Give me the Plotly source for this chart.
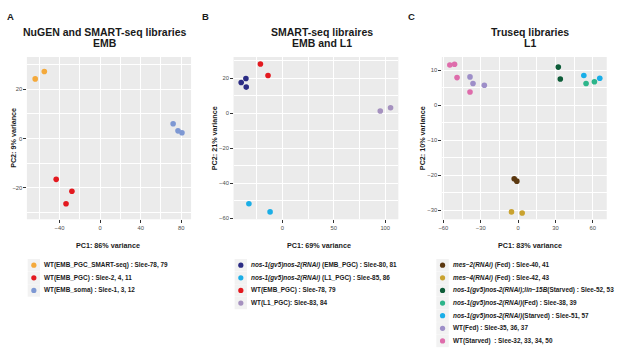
import plotly.graph_objects as go

W, H = 617, 354
FONT = "Liberation Sans, Arial, sans-serif"

# ---------------- Panel A data ----------------
a_labels = ["WT(EMB_PGC_SMART-seq) : Slee-78, 79",
            "WT(EMB_PGC) : Slee-2, 4, 11",
            "WT(EMB_soma) : Slee-1, 3, 12"]
a_colors = ["#F4A93B", "#E3191F", "#7E98D3"]
a_pc1 = [[-64.0, -55.0], [-43.3, -27.8, -33.6], [72.0, 76.8, 80.7]]
a_pc2 = [[24.2, 27.2], [-16.6, -21.4, -26.5], [6.0, 3.1, 2.3]]

# ---------------- Panel B data ----------------
b_labels = ["<i>nos-1(gv5)nos-2(RNAi)</i> (EMB_PGC) : Slee-80, 81",
            "<i>nos-1(gv5)nos-2(RNAi)</i> (L1_PGC) : Slee-85, 86",
            "WT(EMB_PGC) : Slee-78, 79",
            "WT(L1_PGC): Slee-83, 84"]
b_colors = ["#2B2C84", "#1BAEE6", "#E3191F", "#A591BF"]
b_pc1 = [[-40.0, -35.4, -35.1], [-32.5, -11.9], [-21.3, -13.9], [95.2, 105.2]]
b_pc2 = [[17.6, 19.9, 15.0], [-51.6, -56.3], [28.2, 21.6], [1.3, 3.2]]

# ---------------- Panel C data ----------------
c_labels = ["<i>mes\u22122(RNAi)</i> (Fed) : Slee-40, 41",
            "<i>mes\u22124(RNAi)</i> (Fed) : Slee-42, 43",
            "<i>nos-1(gv5)nos-2(RNAi);lin\u221215B</i>(Starved) : Slee-52, 53",
            "<i>nos-1(gv5)nos-2(RNAi)</i>(Fed) : Slee-38, 39",
            "<i>nos-1(gv5)nos-2(RNAi)</i>(Starved) : Slee-51, 57",
            "WT(Fed) : Slee-35, 36, 37",
            "WT(Starved) \u00a0: Slee-32, 33, 34, 50"]
c_colors = ["#5B3810", "#C9A22F", "#0D5C38", "#2DB58A", "#19AEE8", "#9D8EC8", "#DE6CAB"]
c_pc1 = [[-3.1, -1.0], [-5.3, 3.3], [32.3, 33.9], [54.6, 61.3], [52.8, 65.6],
         [-38.6, -36.2, -27.1], [-54.8, -51.0, -49.0, -38.6]]
c_pc2 = [[-21.0, -21.7], [-30.5, -30.8], [10.9, 7.5], [6.2, 6.7], [8.5, 7.7],
         [8.1, 6.2, 5.7], [11.5, 11.7, 7.9, 3.8]]

titles = [("NuGEN and SMART-seq libraries", "EMB"),
          ("SMART-seq libraires", "EMB and L1"),
          ("Truseq libraries", "L1")]
letters = ["A", "B", "C"]
xtitles = ["PC1: 86% variance", "PC1: 69% variance", "PC1: 83% variance"]
ytitles = ["PC2: 9% variance", "PC2: 21% variance", "PC2: 10% variance"]

panels = [
    dict(labels=a_labels, colors=a_colors, x=a_pc1, y=a_pc2,
         xdom=(24, 189), xr=[-72.2, 89.7], yr=[-32.8, 33.1], xd=40, yd=20,
         letter=(7.5, 16.7), t1=103, t2=102, xt=105.5, yt=10.7, leg=31),
    dict(labels=b_labels, colors=b_colors, x=b_pc1, y=b_pc2,
         xdom=(231.7, 397.3), xr=[-47.4, 112.8], yr=[-60.5, 32.2], xd=50, yd=20,
         letter=(203.5, 16.3), t1=320.5, t2=320.3, xt=318, yt=212, leg=239),
    dict(labels=c_labels, colors=c_colors, x=c_pc1, y=c_pc2,
         xdom=(441, 606.7), xr=[-61.2, 71.2], yr=[-32.6, 13.8], xd=30, yd=10,
         letter=(410, 16.7), t1=530, t2=530, xt=530, yt=421, leg=441.7),
]

PLOT_TOP, PLOT_BOT = 57.3, 220.5
ydom = [1 - PLOT_BOT / H, 1 - PLOT_TOP / H]
LEG_TOP, LEG_STEP = 266.7, 12.7
leg_ydom = [1 - (LEG_TOP + 6.5 * LEG_STEP) / H, 1 - (LEG_TOP - 0.5 * LEG_STEP) / H]

fig = go.Figure()
layout = dict(width=W, height=H, margin=dict(l=0, r=0, t=0, b=0),
              paper_bgcolor="white", plot_bgcolor="rgba(0,0,0,0)",
              showlegend=False, font=dict(family=FONT))
annotations = []
shapes = []


def px(xp):
    return xp / W


def py(yp):
    return 1 - yp / H


for i, p in enumerate(panels):
    n = i + 1
    sx = "" if n == 1 else str(n)
    xa, ya = "x" + sx, "y" + sx
    # panel background
    shapes.append(dict(type="rect", xref=xa + " domain", yref=ya + " domain",
                       x0=0, x1=1, y0=0, y1=1, fillcolor="#EBEBEB",
                       line=dict(width=0), layer="below"))
    # data traces
    for lab, col, xs, ys in zip(p["labels"], p["colors"], p["x"], p["y"]):
        fig.add_trace(go.Scatter(x=xs, y=ys, mode="markers", xaxis=xa, yaxis=ya,
                                 marker=dict(color=col, size=5.6, line=dict(width=0)),
                                 name=lab, hoverinfo="x+y+name"))
    axis_common = dict(showgrid=True, gridcolor="white", gridwidth=1.1,
                       zeroline=False, showline=False, ticks="outside", ticklen=2.5,
                       tickwidth=0.6, tickcolor="#333333",
                       tickfont=dict(size=5.8, color="#4D4D4D", family=FONT))
    layout["xaxis" + sx] = dict(axis_common, domain=[px(p["xdom"][0]), px(p["xdom"][1])],
                                range=p["xr"], anchor=ya, tick0=0, dtick=p["xd"],
                                minor=dict(showgrid=True, gridcolor="white", gridwidth=0.5,
                                           tick0=0, dtick=p["xd"] / 2))
    layout["yaxis" + sx] = dict(axis_common, domain=ydom, range=p["yr"], anchor=xa,
                                tick0=0, dtick=p["yd"],
                                minor=dict(showgrid=True, gridcolor="white", gridwidth=0.5,
                                           tick0=0, dtick=p["yd"] / 2))
    # legend axes
    ln = n + 3
    lxa, lya = "x" + str(ln), "y" + str(ln)
    layout["xaxis" + str(ln)] = dict(domain=[px(p["leg"] - 10), px(p["leg"] + 10)], range=[-1, 1],
                                     visible=False, fixedrange=True, anchor=lya)
    layout["yaxis" + str(ln)] = dict(domain=leg_ydom, range=[6.5, -0.5], visible=False,
                                     fixedrange=True, anchor=lxa)
    idx = list(range(len(p["labels"])))
    fig.add_trace(go.Scatter(x=[0] * len(idx), y=idx, mode="markers", xaxis=lxa, yaxis=lya,
                             marker=dict(symbol="square", size=12.4, color="#F2F2F2",
                                         line=dict(width=0)),
                             hoverinfo="skip", cliponaxis=False))
    fig.add_trace(go.Scatter(x=[0] * len(idx), y=idx, mode="markers", xaxis=lxa, yaxis=lya,
                             marker=dict(size=5.2, color=p["colors"], line=dict(width=0)),
                             hoverinfo="skip", cliponaxis=False))
    for k, lab in enumerate(p["labels"]):
        annotations.append(dict(x=0, y=k, xref=lxa, yref=lya, xanchor="left", yanchor="middle",
                                xshift=8, showarrow=False, text="<b>" + lab + "</b>",
                                font=dict(size=6.4, color="#1A1A1A", family=FONT)))
    # titles
    annotations.append(dict(x=px(p["t1"]), y=py(31.7), xref="paper", yref="paper",
                            xanchor="center", yanchor="middle", showarrow=False,
                            text="<b>" + titles[i][0] + "</b>",
                            font=dict(size=10.5, color="#1A1A1A", family=FONT)))
    annotations.append(dict(x=px(p["t2"]), y=py(43.3), xref="paper", yref="paper",
                            xanchor="center", yanchor="middle", showarrow=False,
                            text="<b>" + titles[i][1] + "</b>",
                            font=dict(size=10.5, color="#1A1A1A", family=FONT)))
    annotations.append(dict(x=px(p["letter"][0]), y=py(p["letter"][1]), xref="paper", yref="paper",
                            xanchor="center", yanchor="middle", showarrow=False,
                            text="<b>" + letters[i] + "</b>",
                            font=dict(size=9.5, color="#1A1A1A", family=FONT)))
    annotations.append(dict(x=px(p["xt"]), y=py(247.2), xref="paper", yref="paper",
                            xanchor="center", yanchor="middle", showarrow=False,
                            text="<b>" + xtitles[i] + "</b>",
                            font=dict(size=7.2, color="#1A1A1A", family=FONT)))
    annotations.append(dict(x=px(p["yt"]), y=py(139), xref="paper", yref="paper",
                            xanchor="center", yanchor="middle", showarrow=False, textangle=-90,
                            text="<b>" + ytitles[i] + "</b>",
                            font=dict(size=7.2, color="#1A1A1A", family=FONT)))

layout["annotations"] = annotations
layout["shapes"] = shapes
fig.update_layout(**layout)
fig.write_html("out.html", config={"displayModeBar": False},
               post_script="document.body.style.margin='0';document.body.style.padding='0';"
                           "document.body.style.overflow='hidden';")
